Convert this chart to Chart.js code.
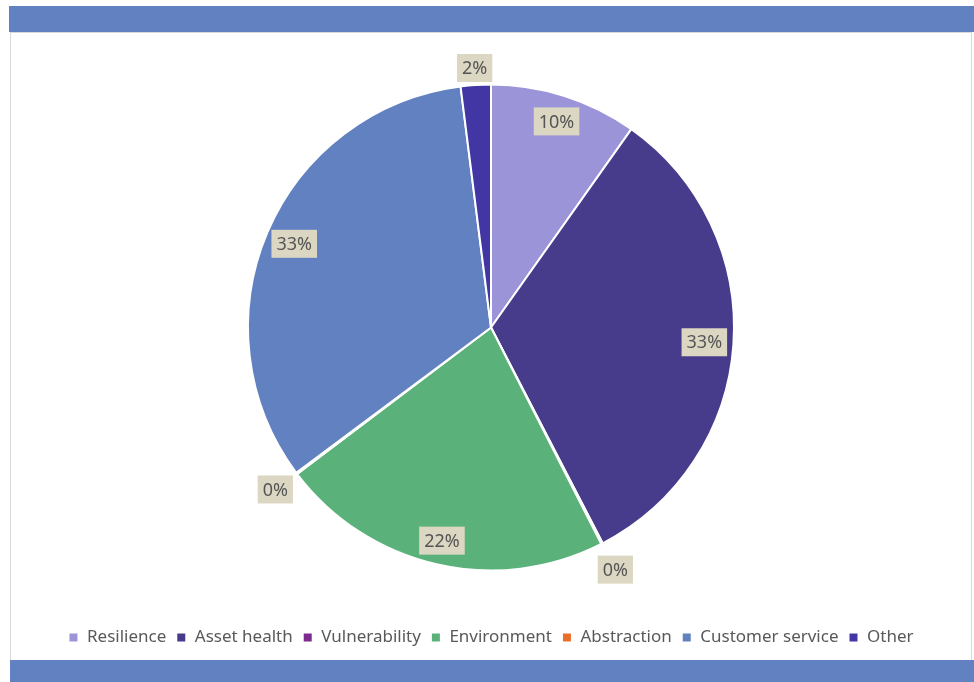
<!DOCTYPE html>
<html>
<head>
<meta charset="utf-8">
<script src="https://cdn.jsdelivr.net/npm/chart.js@4/dist/chart.umd.min.js"></script>
<style>
  body { margin: 0; background: #fff; }
  #wrap { position: relative; width: 974px; height: 682px; overflow: hidden; }
  .bar { position: absolute; background: #6281c0; }
  #frame { position: absolute; left: 10px; top: 32px; width: 960px; height: 627px; border: 1px solid #d9d9d9; }
  #chart-box { position: absolute; left: 0; top: 0; width: 974px; height: 682px; }
</style>
</head>
<body>
<div id="wrap">
  <div class="bar" style="left:9px;top:6px;width:965px;height:26px;"></div>
  <div id="frame"></div>
  <div class="bar" style="left:10px;top:660px;width:964px;height:22px;"></div>
  <div id="chart-box"><canvas id="pie"></canvas></div>
</div>
<script>
const categories = ['Resilience', 'Asset health', 'Vulnerability', 'Environment', 'Abstraction', 'Customer service', 'Other'];
const shares = [9.8, 32.6, 0.1, 22.2, 0.1, 33.2, 2.0];
const sliceColors = ['#9b94d8', '#463c8b', '#7b2c8e', '#5ab27a', '#e8702a', '#6281c0', '#4136a4'];

// how far out each label sits, as a fraction of the radius
const labelRadius = [0.89, 0.88, 1.12, 0.9, 1.11, 0.88, 1.07];

const pieLabels = {
  id: 'pieLabels',
  afterDatasetsDraw(chart) {
    const { ctx } = chart;
    const meta = chart.getDatasetMeta(0);
    const values = chart.data.datasets[0].data;
    const total = values.reduce((s, v) => s + v, 0);
    ctx.save();
    ctx.font = '18px "Noto Sans"';
    ctx.textAlign = 'center';
    ctx.textBaseline = 'middle';
    meta.data.forEach((arc, i) => {
      const p = arc.getProps(['x', 'y', 'startAngle', 'endAngle', 'outerRadius'], true);
      const mid = (p.startAngle + p.endAngle) / 2;
      const r = p.outerRadius * labelRadius[i];
      const x = p.x + Math.cos(mid) * r;
      const y = p.y + Math.sin(mid) * r;
      const text = Math.round(values[i] / total * 100) + '%';
      const w = ctx.measureText(text).width + 10;
      const h = 28;
      ctx.fillStyle = '#dbd7c2';
      ctx.fillRect(x - w / 2, y - h / 2, w, h);
      ctx.fillStyle = '#555555';
      ctx.fillText(text, x, y + 1);
    });
    ctx.restore();
  }
};

new Chart(document.getElementById('pie').getContext('2d'), {
  type: 'pie',
  data: {
    labels: categories,
    datasets: [{
      data: shares,
      backgroundColor: sliceColors,
      borderColor: '#ffffff',
      borderWidth: 2,
      radius: 243
    }]
  },
  options: {
    responsive: true,
    maintainAspectRatio: false,
    animation: false,
    layout: { padding: { top: 36, bottom: 26, left: 14, right: 6 } },
    plugins: {
      legend: {
        position: 'bottom',
        labels: {
          boxWidth: 10,
          boxHeight: 10,
          padding: 10,
          color: '#595959',
          font: { family: '"Noto Sans"', size: 17 }
        }
      },
      tooltip: { enabled: false }
    }
  },
  plugins: [pieLabels]
});
</script>
</body>
</html>
